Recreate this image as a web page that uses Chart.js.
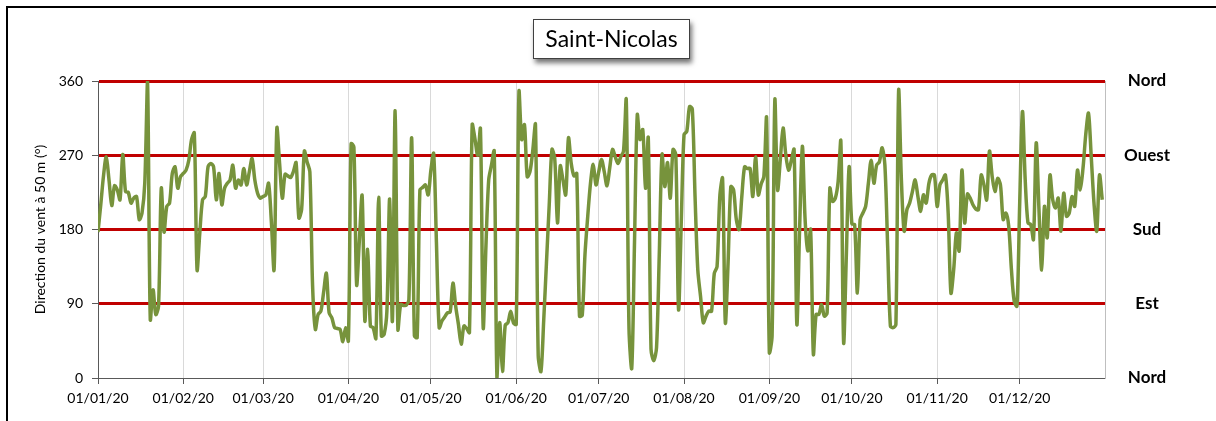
<!DOCTYPE html>
<html>
<head>
<meta charset="utf-8">
<script src="https://cdn.jsdelivr.net/npm/chart.js@4/dist/chart.umd.min.js"></script>
<style>
  html, body { margin: 0; padding: 0; background: #ffffff; }
  #wrap { width: 1216px; height: 421px; position: relative; }
</style>
</head>
<body>
<div id="wrap"><canvas id="c" width="1216" height="421"></canvas></div>
<script>
// ---- Data (daily wind direction at 50 m, 2020) ----
const dayValues = [
  177, 210, 245, 268, 240, 209, 233, 228, 216, 271,
  226, 225, 212, 218, 220, 192, 200, 236, 359, 71,
  107, 77, 87, 230, 177, 208, 212, 248, 256, 230,
  244, 248, 252, 264, 289, 297, 131, 176, 216, 220,
  256, 260, 256, 216, 248, 210, 230, 236, 240, 258,
  230, 240, 234, 254, 234, 250, 266, 240, 224, 218,
  220, 222, 236, 190, 131, 303, 260, 218, 247, 245,
  243, 250, 261, 194, 204, 275, 262, 250, 111, 59,
  77, 81, 104, 127, 79, 73, 61, 60, 59, 44,
  61, 45, 284, 280, 113, 167, 221, 69, 156, 63,
  61, 48, 219, 51, 53, 81, 217, 69, 324, 59,
  89, 88, 88, 95, 291, 51, 49, 228, 231, 234,
  222, 252, 272, 165, 61, 69, 74, 79, 80, 115,
  87, 65, 41, 63, 60, 55, 307, 290, 270, 302,
  61, 160, 240, 258, 275, 0, 67, 8, 64, 67,
  81, 67, 65, 347, 289, 307, 244, 250, 275, 307,
  27, 8, 70, 140, 210, 277, 266, 188, 257, 240,
  222, 291, 260, 245, 248, 75, 76, 150, 196, 236,
  259, 234, 250, 265, 250, 233, 255, 277, 268, 260,
  268, 275, 337, 59, 12, 165, 319, 289, 301, 230,
  291, 35, 21, 37, 150, 271, 232, 261, 218, 277,
  271, 83, 190, 295, 299, 329, 326, 220, 131, 99,
  67, 75, 81, 81, 127, 135, 220, 242, 67, 139,
  232, 228, 192, 180, 220, 256, 254, 254, 220, 268,
  222, 235, 244, 315, 31, 51, 337, 228, 265, 303,
  270, 252, 264, 277, 65, 180, 281, 192, 154, 180,
  29, 77, 77, 89, 75, 79, 230, 214, 218, 238,
  287, 43, 150, 256, 187, 186, 103, 192, 200, 208,
  236, 264, 236, 258, 262, 279, 258, 160, 63, 61,
  65, 349, 240, 178, 204, 212, 226, 240, 220, 202,
  222, 212, 236, 246, 246, 208, 234, 240, 246, 200,
  103, 131, 176, 154, 252, 188, 223, 218, 210, 205,
  204, 246, 234, 216, 275, 244, 226, 242, 234, 192,
  200, 184, 131, 93, 87, 212, 323, 240, 188, 186,
  168, 285, 204, 131, 208, 170, 246, 216, 206, 218,
  178, 224, 196, 200, 220, 208, 252, 228, 254, 295,
  321, 268, 212, 178, 246, 216
];
const monthStartDays = [0, 31, 60, 91, 121, 152, 182, 213, 244, 274, 305, 335];
const monthLabels = ['01/01/20', '01/02/20', '01/03/20', '01/04/20', '01/05/20', '01/06/20',
                     '01/07/20', '01/08/20', '01/09/20', '01/10/20', '01/11/20', '01/12/20'];
const degreeTicks = [0, 90, 180, 270, 360];
const directionLabels = ['Nord', 'Est', 'Sud', 'Ouest', 'Nord'];
const chartTitle = 'Saint-Nicolas';
const yAxisTitle = 'Direction du vent à 50 m (°)';

// ---- Decorations: outer frame + boxed title ----
const decorPlugin = {
  id: 'decor',
  beforeDraw(chart) {
    const ctx = chart.ctx;
    ctx.save();
    ctx.fillStyle = '#ffffff';
    ctx.fillRect(0, 0, chart.width, chart.height);
    ctx.fillStyle = '#000000';
    ctx.fillRect(6, 6, 2, chart.height - 6);
    ctx.fillRect(6, 6, chart.width - 6, 2);
    // title box with shadow
    const bx = 533, by = 19, bw = 157, bh = 40;
    ctx.shadowColor = 'rgba(0,0,0,0.55)';
    ctx.shadowBlur = 5;
    ctx.shadowOffsetX = 2;
    ctx.shadowOffsetY = 4;
    ctx.fillStyle = '#ffffff';
    ctx.fillRect(bx, by, bw, bh);
    ctx.shadowColor = 'rgba(0,0,0,0)';
    ctx.shadowBlur = 0; ctx.shadowOffsetX = 0; ctx.shadowOffsetY = 0;
    ctx.strokeStyle = '#404040';
    ctx.lineWidth = 1;
    ctx.strokeRect(bx + 0.5, by + 0.5, bw - 1, bh - 1);
    ctx.fillStyle = '#000000';
    ctx.font = '23px Lato';
    ctx.textAlign = 'center';
    ctx.textBaseline = 'middle';
    ctx.fillText(chartTitle, bx + bw / 2, by + bh / 2 + 1);
    ctx.restore();
  }
};

const tickFont = { family: 'Lato', size: 14 };

new Chart(document.getElementById('c'), {
  type: 'line',
  data: {
    datasets: [{
      data: dayValues.map((v, i) => ({ x: i, y: v })),
      borderColor: '#77933C',
      borderWidth: 3.5,
      pointRadius: 0,
      tension: 0.3,
      fill: false
    }]
  },
  options: {
    responsive: false,
    devicePixelRatio: 1,
    animation: false,
    layout: { padding: { top: 81, left: 0, right: 0, bottom: 0 } },
    plugins: { legend: { display: false }, title: { display: false }, tooltip: { enabled: false } },
    scales: {
      x: {
        type: 'linear',
        min: 0,
        max: 366,
        afterBuildTicks(scale) { scale.ticks = monthStartDays.map(v => ({ value: v })); },
        afterFit(scale) { scale.height = 43; },
        ticks: {
          autoSkip: false, maxRotation: 0, minRotation: 0,
          font: tickFont, color: '#000000', padding: 6,
          callback(value, index) { return monthLabels[index]; }
        },
        grid: { color: '#D9D9D9', lineWidth: 1, tickColor: '#595959', tickLength: 6, tickWidth: 1 },
        border: { display: true, color: '#595959', width: 1 }
      },
      y: {
        position: 'left',
        min: 0,
        max: 360,
        afterBuildTicks(scale) { scale.ticks = degreeTicks.map(v => ({ value: v })); },
        afterFit(scale) { scale.width = 98; },
        ticks: { font: tickFont, color: '#000000', padding: 9 },
        grid: {
          color: (c) => (c.tick && c.tick.value === 0) ? 'rgba(0,0,0,0)' : '#C00000',
          lineWidth: 3,
          tickColor: '#595959', tickLength: 6, tickWidth: 1
        },
        border: { display: true, color: '#595959', width: 1 },
        title: {
          display: true, text: yAxisTitle, color: '#000000',
          font: { family: 'Lato', size: 14 }, padding: { top: 32, bottom: 0 }
        }
      },
      y2: {
        position: 'right',
        min: 0,
        max: 360,
        afterBuildTicks(scale) { scale.ticks = degreeTicks.map(v => ({ value: v })); },
        afterFit(scale) { scale.width = 111; },
        ticks: {
          font: { family: 'Lato', size: 17, weight: 'bold' }, color: '#000000',
          padding: 19, crossAlign: 'center',
          callback(value, index) { return directionLabels[index]; }
        },
        grid: { display: false, drawTicks: false },
        border: { display: true, color: '#BFBFBF', width: 1 }
      }
    }
  },
  plugins: [decorPlugin]
});
</script>
</body>
</html>
